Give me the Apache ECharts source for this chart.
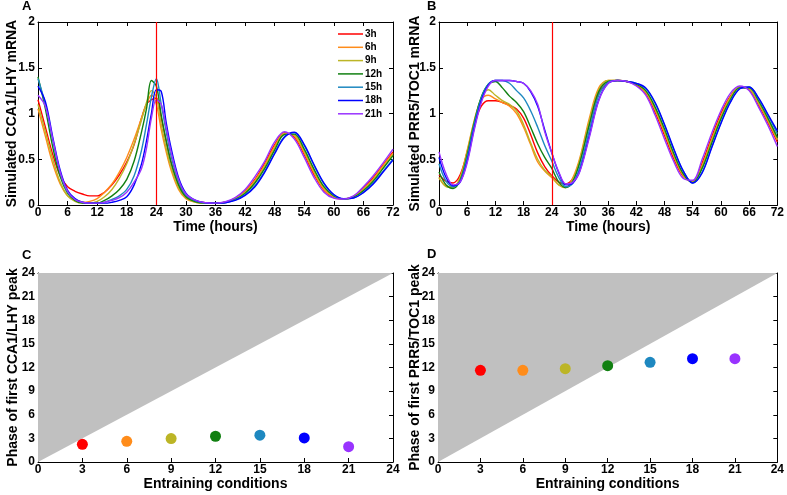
<!DOCTYPE html>
<html>
<head>
<meta charset="utf-8">
<script src="https://cdn.jsdelivr.net/npm/echarts@6/dist/echarts.min.js"></script>
<style>
html,body{margin:0;padding:0;background:#fff;}
#chart{width:787px;height:495px;}
</style>
</head>
<body>
<div id="chart"></div>
<script>
// ---------- DATA ----------
const seriesNames = ['3h','6h','9h','12h','15h','18h','21h'];
const seriesColors = ['#ff0000','#ff8c1a','#bcb526','#118011','#1e88c0','#0000ff','#9933ff'];
const switchHour = 24;

const hoursA = [0,1.5,3,4.5,6,7.5,9,10.5,12,13.5,15,16.5,18,19.5,21,22,23,24,25,26,27,28.5,30,32,34,36,38,40,42,44,46,48,50,52,54,56,58,60,62,64,66,68,70,72];
const cca1_3h  = [1.15,0.85,0.55,0.32,0.2,0.15,0.12,0.1,0.1,0.14,0.22,0.33,0.47,0.66,0.95,1.1,1.15,1.17,0.95,0.7,0.47,0.23,0.1,0.04,0.025,0.02,0.03,0.075,0.155,0.28,0.46,0.66,0.79,0.74,0.55,0.33,0.16,0.08,0.065,0.095,0.185,0.3,0.44,0.58];
const cca1_6h  = [1.05,0.75,0.45,0.23,0.1,0.05,0.03,0.04,0.07,0.14,0.23,0.36,0.52,0.72,0.95,1.1,1.2,1.1,0.82,0.58,0.38,0.17,0.07,0.03,0.02,0.02,0.03,0.07,0.145,0.27,0.44,0.64,0.785,0.755,0.57,0.35,0.17,0.087,0.065,0.092,0.175,0.285,0.43,0.565];
const cca1_9h  = [1.1,0.8,0.5,0.25,0.1,0.04,0.02,0.02,0.04,0.09,0.17,0.29,0.45,0.67,0.93,1.12,1.25,1.18,0.88,0.62,0.41,0.19,0.08,0.03,0.02,0.02,0.03,0.065,0.135,0.25,0.42,0.62,0.775,0.765,0.59,0.37,0.19,0.093,0.065,0.088,0.165,0.275,0.41,0.55];
const cca1_12h = [1.4,1.05,0.63,0.31,0.13,0.05,0.02,0.02,0.02,0.05,0.1,0.17,0.28,0.48,0.8,1.05,1.36,1.3,0.98,0.7,0.46,0.22,0.09,0.035,0.02,0.02,0.03,0.06,0.125,0.24,0.4,0.6,0.77,0.775,0.61,0.39,0.2,0.1,0.066,0.085,0.155,0.26,0.4,0.54];
const cca1_15h = [1.38,1.1,0.7,0.35,0.14,0.06,0.03,0.02,0.02,0.03,0.06,0.1,0.17,0.32,0.6,0.88,1.18,1.38,1.1,0.8,0.53,0.26,0.11,0.045,0.022,0.02,0.025,0.055,0.11,0.21,0.37,0.57,0.75,0.79,0.65,0.43,0.23,0.11,0.068,0.078,0.14,0.24,0.37,0.5];
const cca1_18h = [1.3,1.13,0.74,0.38,0.16,0.07,0.03,0.02,0.02,0.02,0.03,0.05,0.09,0.22,0.45,0.7,1.0,1.26,1.24,0.9,0.62,0.3,0.13,0.05,0.025,0.02,0.025,0.05,0.105,0.2,0.36,0.56,0.74,0.795,0.66,0.44,0.24,0.115,0.07,0.077,0.135,0.23,0.36,0.49];
const cca1_21h = [1.2,1.08,0.72,0.36,0.15,0.06,0.03,0.02,0.02,0.03,0.05,0.08,0.14,0.25,0.4,0.62,0.95,1.15,1.1,0.85,0.58,0.28,0.12,0.05,0.025,0.02,0.035,0.08,0.17,0.31,0.48,0.69,0.8,0.72,0.52,0.3,0.14,0.075,0.065,0.1,0.2,0.32,0.46,0.61];

const hoursB = [0,1.5,3,4.5,6,7.5,9,10.5,12,13.5,15,16.5,18,19.5,21,22.5,24,25.5,27,28.5,30,32,34,36,38,40,42,44,46,48,50,52,54,56,58,60,62,64,66,68,70,72];
const prr5_3h  = [0.33,0.26,0.24,0.33,0.58,0.88,1.08,1.14,1.14,1.12,1.09,1.05,0.95,0.77,0.57,0.42,0.32,0.25,0.23,0.29,0.48,0.88,1.22,1.34,1.36,1.35,1.31,1.22,1.01,0.76,0.5,0.31,0.26,0.46,0.74,1.0,1.19,1.29,1.26,1.09,0.9,0.69];
const prr5_6h  = [0.3,0.21,0.2,0.3,0.6,0.92,1.15,1.2,1.16,1.12,1.08,1.0,0.85,0.66,0.47,0.37,0.3,0.22,0.19,0.3,0.52,0.95,1.28,1.36,1.36,1.35,1.32,1.23,1.04,0.79,0.53,0.32,0.25,0.43,0.71,0.97,1.18,1.29,1.27,1.11,0.92,0.71];
const prr5_9h  = [0.3,0.2,0.19,0.3,0.58,0.92,1.17,1.26,1.2,1.14,1.1,1.03,0.88,0.68,0.5,0.38,0.31,0.22,0.19,0.28,0.5,0.92,1.26,1.36,1.36,1.35,1.32,1.24,1.05,0.8,0.54,0.33,0.25,0.42,0.7,0.96,1.17,1.29,1.27,1.12,0.93,0.72];
const prr5_12h = [0.36,0.22,0.18,0.27,0.55,0.9,1.18,1.32,1.35,1.28,1.19,1.12,1.02,0.85,0.67,0.52,0.4,0.25,0.19,0.26,0.47,0.88,1.24,1.35,1.36,1.35,1.32,1.25,1.07,0.83,0.56,0.34,0.245,0.4,0.67,0.94,1.15,1.28,1.28,1.14,0.95,0.74];
const prr5_15h = [0.45,0.26,0.2,0.26,0.52,0.88,1.17,1.32,1.36,1.36,1.33,1.25,1.17,1.03,0.85,0.65,0.48,0.3,0.2,0.24,0.42,0.82,1.2,1.34,1.36,1.35,1.33,1.27,1.11,0.87,0.6,0.37,0.24,0.36,0.63,0.9,1.13,1.27,1.29,1.16,0.98,0.78];
const prr5_18h = [0.52,0.3,0.21,0.25,0.48,0.84,1.14,1.31,1.36,1.36,1.36,1.35,1.33,1.24,1.08,0.82,0.57,0.35,0.22,0.24,0.38,0.76,1.15,1.33,1.36,1.35,1.33,1.28,1.12,0.88,0.61,0.37,0.24,0.35,0.62,0.89,1.12,1.27,1.29,1.17,0.99,0.81];
const prr5_21h = [0.58,0.34,0.22,0.25,0.46,0.82,1.12,1.3,1.36,1.36,1.36,1.35,1.33,1.25,1.1,0.8,0.57,0.36,0.23,0.25,0.37,0.74,1.14,1.33,1.36,1.35,1.3,1.2,0.98,0.72,0.47,0.29,0.27,0.5,0.78,1.03,1.22,1.3,1.25,1.07,0.87,0.64];

const entraining = [3,6,9,12,15,18,21];
const phaseCCA1 = [2.25,2.63,2.97,3.27,3.4,3.06,1.95];
const phasePRR5 = [11.64,11.64,11.85,12.23,12.66,13.12,13.12];
const diagX = [0,24];
const diagY = [0,24];

// ---------- CHART ----------
const cca1All = [cca1_3h,cca1_6h,cca1_9h,cca1_12h,cca1_15h,cca1_18h,cca1_21h];
const prr5All = [prr5_3h,prr5_6h,prr5_9h,prr5_12h,prr5_15h,prr5_18h,prr5_21h];
const FONT = "'Liberation Sans', Arial, Helvetica, sans-serif";

const grids = [
  {left:38, right:394, top:22, height:183},
  {left:439, right:9, top:22, height:183},
  {left:38, right:394, top:273, bottom:33},
  {left:438, right:9, top:273, bottom:33}
];

function baseAxis(gi, min, max, interval) {
  return {
    type:'value', gridIndex:gi, min:min, max:max, interval:interval,
    axisLine:{show:true, onZero:false, lineStyle:{color:'#000', width:1}},
    axisTick:{show:true, inside:true, length:4, lineStyle:{color:'#000', width:1}},
    splitLine:{show:false},
  };
}
function xMain(gi, min, max, interval, name) {
  return Object.assign(baseAxis(gi,min,max,interval), {
    position:'bottom', name:name, nameLocation:'middle', nameGap:3,
    nameTextStyle:{fontFamily:FONT, fontWeight:'bold', fontSize:14, color:'#000'},
    axisLabel:{show:true, margin:2, fontFamily:FONT, fontWeight:'bold', fontSize:12, color:'#000'}
  });
}
function xTop(gi, min, max, interval) {
  return Object.assign(baseAxis(gi,min,max,interval), {position:'top', axisLabel:{show:false}});
}
function yMain(gi, min, max, interval, name, gap) {
  return Object.assign(baseAxis(gi,min,max,interval), {
    position:'left', name:name, nameLocation:'middle', nameGap:gap, nameRotate:90,
    nameMoveOverlap:false,
    nameTextStyle:{fontFamily:FONT, fontWeight:'bold', fontSize:14, color:'#000'},
    axisLabel:{show:true, margin:3, fontFamily:FONT, fontWeight:'bold', fontSize:12, color:'#000'}
  });
}
function yRight(gi, min, max, interval) {
  return Object.assign(baseAxis(gi,min,max,interval), {position:'right', axisLabel:{show:false}});
}

const xAxes = [
  xMain(0,0,72,6,'Time (hours)'), xTop(0,0,72,6),
  xMain(1,0,72,6,'Time (hours)'), xTop(1,0,72,6),
  xMain(2,0,24,3,'Entraining conditions'), xTop(2,0,24,3),
  xMain(3,0,24,3,'Entraining conditions'), xTop(3,0,24,3)
];
const yAxes = [
  yMain(0,0,2,0.5,'Simulated CCA1/LHY mRNA',19), yRight(0,0,2,0.5),
  yMain(1,0,2,0.5,'Simulated PRR5/TOC1 mRNA',17), yRight(1,0,2,0.5),
  yMain(2,0,24,3,'Phase of first CCA1/LHY peak',18), yRight(2,0,24,3),
  yMain(3,0,24,3,'Phase of first PRR5/TOC1 peak',16), yRight(3,0,24,3)
];

const series = [];
function addCurves(gi, hours, all) {
  all.forEach((vals, i) => {
    series.push({
      type:'line', name:seriesNames[i], xAxisIndex:gi*2, yAxisIndex:gi*2,
      data: hours.map((t, k) => [t, vals[k]]),
      smooth:0.35, symbol:'none', showSymbol:false,
      lineStyle:{color:seriesColors[i], width:1.4},
      itemStyle:{color:seriesColors[i]},
      z: 2 + i*0.01
    });
  });
  series.push({
    type:'line', name:'switch', xAxisIndex:gi*2, yAxisIndex:gi*2, data:[], z:5,
    markLine:{silent:true, symbol:['none','none'], label:{show:false},
      lineStyle:{color:'#ff0000', width:1.2, type:'solid'},
      data:[{xAxis:switchHour}]}
  });
}
addCurves(0, hoursA, cca1All);
addCurves(1, hoursB, prr5All);

function addPhase(gi, phases) {
  series.push({
    type:'line', name:'diag', xAxisIndex:gi*2, yAxisIndex:gi*2,
    data: diagX.map((x,k)=>[x, diagY[k]]),
    symbol:'none', lineStyle:{width:0, color:'#c0c0c0'},
    areaStyle:{origin:'end', color:'#c0c0c0', opacity:1}, z:1
  });
  series.push({
    type:'scatter', name:'phase', xAxisIndex:gi*2, yAxisIndex:gi*2,
    data: entraining.map((x,k)=>[x, phases[k]]),
    symbol:'circle', symbolSize:11,
    itemStyle:{color:(p)=>seriesColors[p.dataIndex], opacity:1}, z:3
  });
}
addPhase(2, phaseCCA1);
addPhase(3, phasePRR5);

const titleStyle = {fontFamily:FONT, fontWeight:'bold', fontSize:13, color:'#000'};
const option = {
  animation:false,
  backgroundColor:'#fff',
  title:[
    {text:'A', left:22, top:0, padding:0, textStyle:titleStyle},
    {text:'B', left:427, top:0, padding:0, textStyle:titleStyle},
    {text:'C', left:22, top:249, padding:0, textStyle:titleStyle},
    {text:'D', left:427, top:248, padding:0, textStyle:titleStyle}
  ],
  legend:{
    data:seriesNames, orient:'vertical', left:338, top:29,
    icon:'rect', itemWidth:25, itemHeight:1.5, itemGap:3.3, padding:0,
    textStyle:{fontFamily:FONT, fontWeight:'bold', fontSize:10, color:'#000', padding:[0,0,0,-3]},
    selectedMode:false
  },
  grid:grids,
  xAxis:xAxes,
  yAxis:yAxes,
  series:series
};
const chart = echarts.init(document.getElementById('chart'), null, {renderer:'canvas'});
chart.setOption(option);
</script>
</body>
</html>
